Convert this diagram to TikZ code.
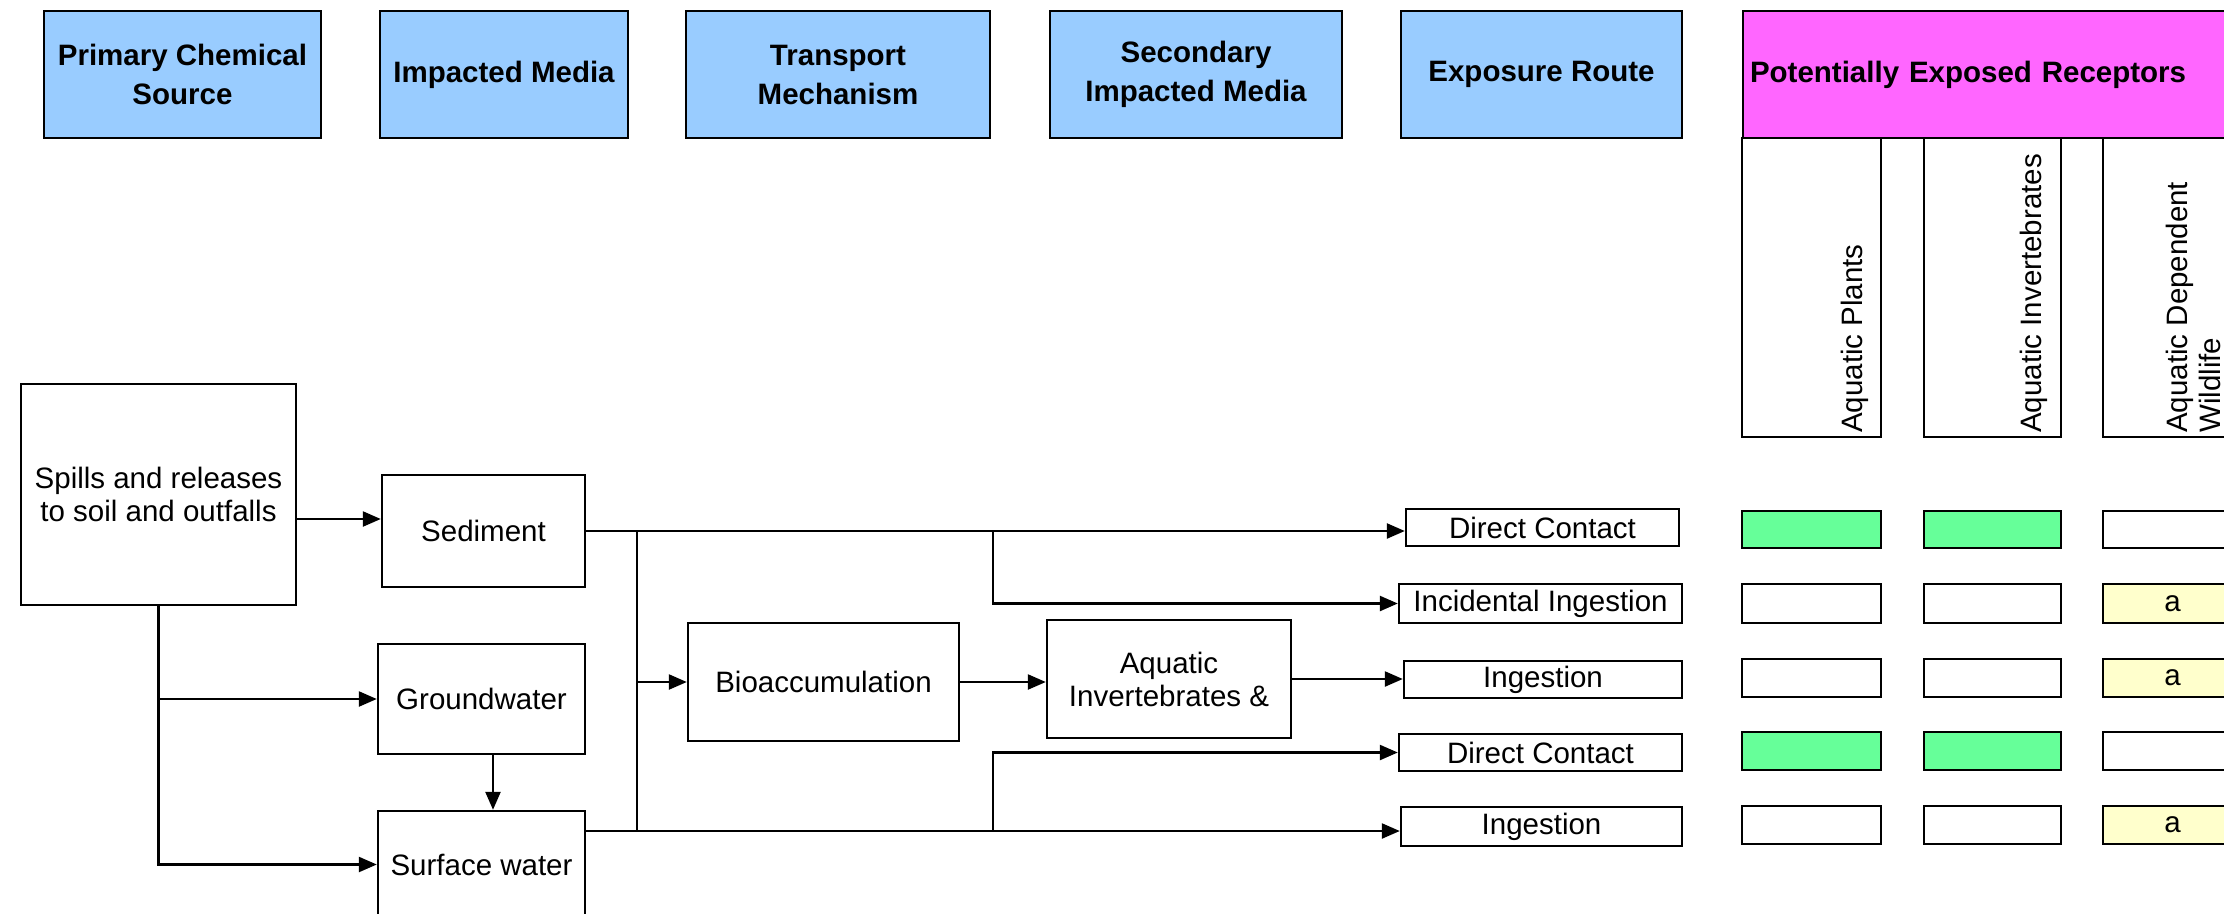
\documentclass[tikz,border=0pt]{standalone}
\usepackage{fontspec}
\setmainfont{Liberation Sans}
\usetikzlibrary{arrows.meta}
\definecolor{hdrblue}{HTML}{99CCFF}
\definecolor{hdrmag}{HTML}{FF66FF}
\definecolor{cellgreen}{HTML}{66FF99}
\definecolor{cellyellow}{HTML}{FFFFCC}
\begin{document}
\begin{tikzpicture}[x=1pt,y=-1pt,
  every node/.style={font=\fontsize{29.5pt}{33pt}\selectfont, inner sep=0pt},
  box/.style={draw, line width=2.4pt, align=center},
  hdr/.style={box, fill=hdrblue, minimum height=127pt, font=\bfseries\fontsize{29.5pt}{39pt}\selectfont},
  cell/.style={draw, line width=2.4pt, minimum height=38pt},
  conn/.style={line width=2.4pt},
  arr/.style={conn, -{Triangle[length=18pt,width=15pt]}}
]
\path[use as bounding box, clip] (0,0) rectangle (2224,913);

% header row
\node[hdr, minimum width=277pt] (h1) at (182.5,74.5) {Primary Chemical\\Source};
\node[hdr, minimum width=248pt] (h2) at (504,74.5) {Impacted Media};
\node[hdr, minimum width=304pt] (h3) at (838,74.5) {Transport\\Mechanism};
\node[hdr, minimum width=292pt] (h4) at (1196,74.5) {Secondary\\Impacted Media};
\node[hdr, minimum width=281pt] (h5) at (1541.5,74.5) {Exposure Route};
\node[hdr, fill=hdrmag, minimum width=557pt, text width=543pt, align=left] (h6) at (2021.5,74.5) {Potentially Exposed Receptors};

% receptor column headers
\node[box, minimum width=139pt, minimum height=299pt] (c1) at (1811.5,287.5) {};
\node[box, minimum width=137pt, minimum height=299pt] (c2) at (1992.5,287.5) {};
\node[box, minimum width=139pt, minimum height=299pt] (c3) at (2172.5,287.5) {};
\node[rotate=90, anchor=base west] (t1) at (1862,433) {Aquatic Plants};
\node[rotate=90, anchor=base west] (t2) at (2041,433) {Aquatic Invertebrates};
\node[rotate=90, anchor=south west, align=left] (t3) at (2221,433) {Aquatic Dependent\\Wildlife};

% flow boxes
\node[box, minimum width=275pt, minimum height=221pt] (src) at (158.5,494.5) {Spills and releases\\to soil and outfalls};
\node[box, minimum width=203pt, minimum height=112pt] (sed) at (483.5,531) {Sediment};
\node[box, minimum width=207pt, minimum height=110pt] (gw) at (481.5,699) {Groundwater};
\node[box, minimum width=207pt, minimum height=107pt] (sw) at (481.5,864.5) {Surface water};
\node[box, minimum width=271pt, minimum height=118pt] (bio) at (823.5,682) {Bioaccumulation};
\node[box, minimum width=244pt, minimum height=118pt] (ai) at (1169,679) {Aquatic\\Invertebrates \&};

% exposure routes
\node[box, minimum width=273pt, minimum height=37pt] (e1) at (1542.5,527.5) {Direct Contact};
\node[box, minimum width=283pt, minimum height=39pt] (e2) at (1540.5,603.5) {Incidental Ingestion};
\node[box, minimum width=278pt, minimum height=37pt] (e3) at (1543,679.5) {Ingestion};
\node[box, minimum width=283pt, minimum height=37pt] (e4) at (1540.5,752.5) {Direct Contact};
\node[box, minimum width=281pt, minimum height=39pt] (e5) at (1541.5,826.5) {Ingestion};

% receptor cells
\node[cell, fill=cellgreen, minimum width=139pt, minimum height=37pt] (r1a) at (1811.5,529.5) {};
\node[cell, fill=cellgreen, minimum width=137pt, minimum height=37pt] (r1b) at (1992.5,529.5) {};
\node[cell, minimum width=139pt, minimum height=37pt] (r1c) at (2172.5,529.5) {};
\node[cell, minimum width=139pt, minimum height=39pt] (r2a) at (1811.5,603.5) {};
\node[cell, minimum width=137pt, minimum height=39pt] (r2b) at (1992.5,603.5) {};
\node[cell, fill=cellyellow, minimum width=139pt, minimum height=39pt] (r2c) at (2172.5,603.5) {a};
\node[cell, minimum width=139pt] (r3a) at (1811.5,678) {};
\node[cell, minimum width=137pt] (r3b) at (1992.5,678) {};
\node[cell, fill=cellyellow, minimum width=139pt] (r3c) at (2172.5,678) {a};
\node[cell, fill=cellgreen, minimum width=139pt] (r4a) at (1811.5,751) {};
\node[cell, fill=cellgreen, minimum width=137pt] (r4b) at (1992.5,751) {};
\node[cell, minimum width=139pt] (r4c) at (2172.5,751) {};
\node[cell, minimum width=139pt] (r5a) at (1811.5,825) {};
\node[cell, minimum width=137pt] (r5b) at (1992.5,825) {};
\node[cell, fill=cellyellow, minimum width=139pt] (r5c) at (2172.5,825) {a};

% junction points
\coordinate (j1) at (637,531);
\coordinate (j2) at (637,831);
\coordinate (k1) at (993,531);
\coordinate (k2) at (993,831);

% connectors
\draw[arr] (src.east |- 0,519) -- (sed.west |- 0,519);
\draw[arr] (src.south) |- (sw.west);
\draw[arr] (src.south |- gw.west) -- (gw.west);
\draw[arr] (gw.south -| 493,0) -- (sw.north -| 493,0);
\draw[arr] (sed.east) -- (sed.east -| e1.west);
\draw[conn] (j1) -- (j2);
\draw[arr] (j1 |- bio.west) -- (bio.west);
\draw[arr] (bio.east) -- (bio.east -| ai.west);
\draw[arr] (ai.east) -- (ai.east -| e3.west);
\draw[arr] (k1) |- (e2.west);
\draw[arr] (k2) |- (e4.west);
\draw[arr] (sw.east |- j2) -- (j2 -| e5.west);
\end{tikzpicture}
\end{document}
